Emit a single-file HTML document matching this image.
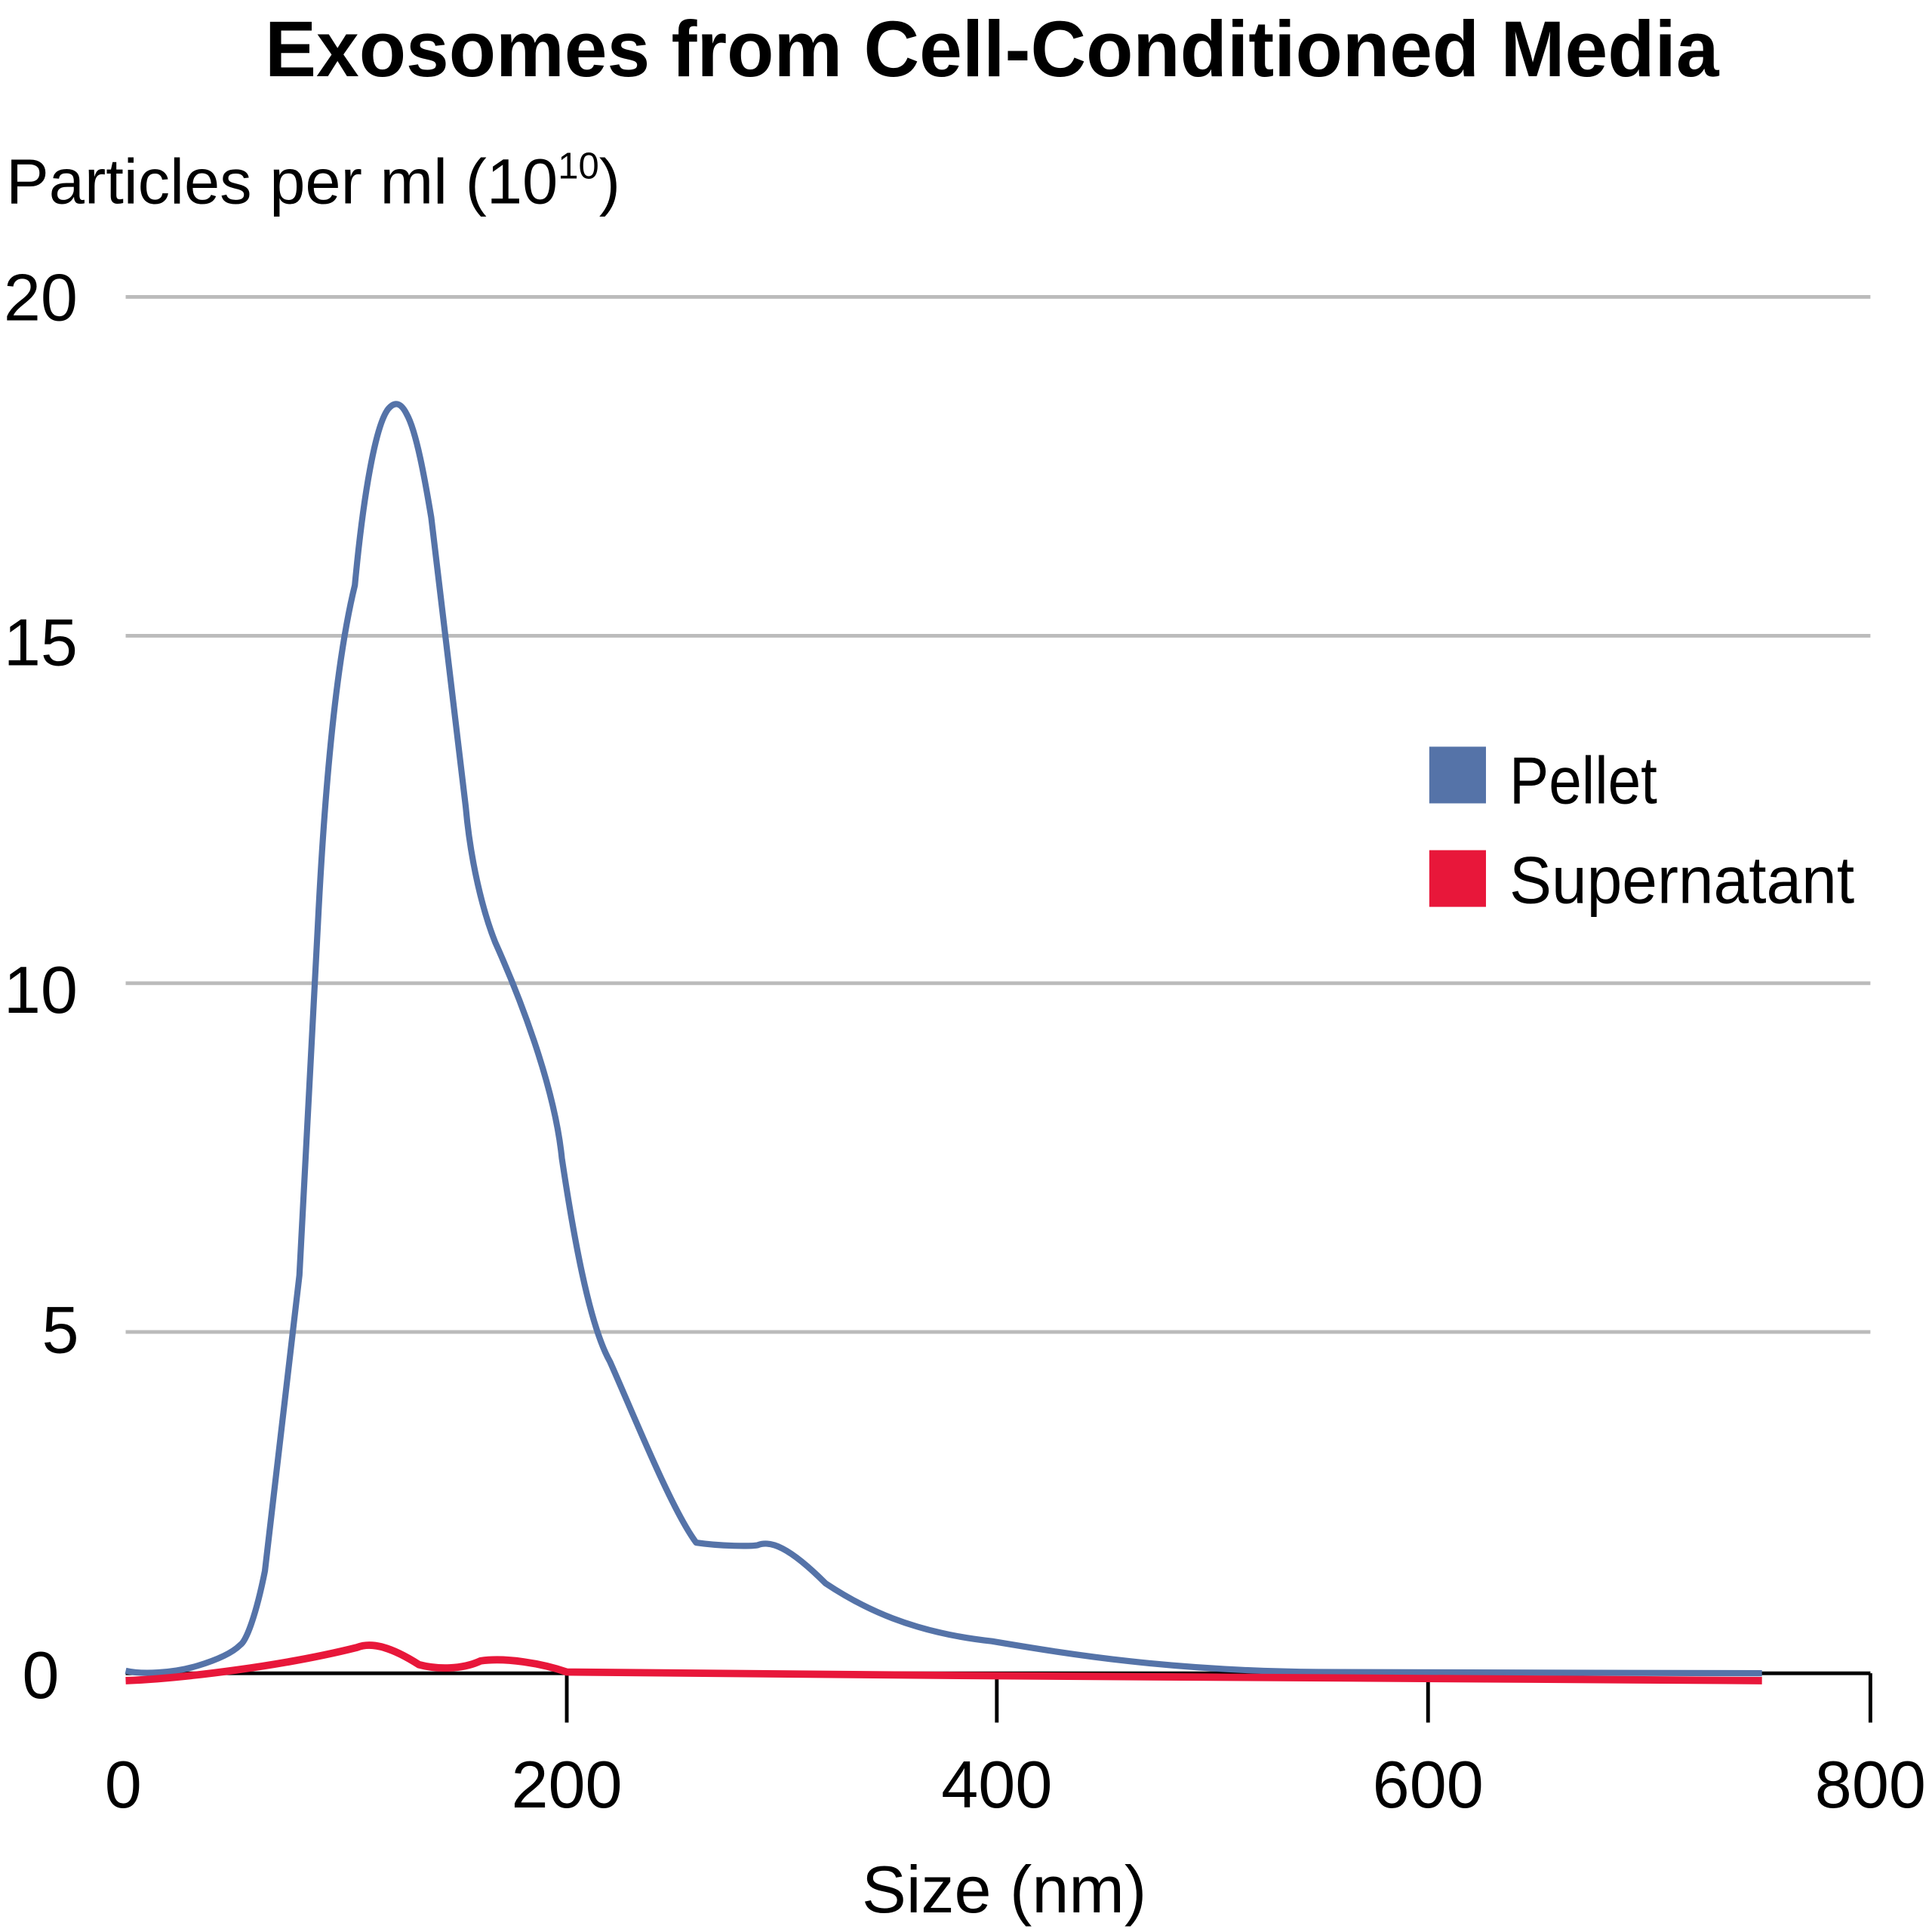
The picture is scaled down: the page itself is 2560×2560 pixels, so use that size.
<!DOCTYPE html>
<html><head><meta charset="utf-8"><style>html,body{margin:0;padding:0;background:#fff}svg{display:block}</style></head>
<body>
<svg width="2560" height="2560" viewBox="0 0 1568 1568" xmlns="http://www.w3.org/2000/svg" font-family="'Liberation Sans', sans-serif">
<rect width="1568" height="1568" fill="#fff"/>
<text x="805" y="62" text-anchor="middle" font-size="64" font-weight="bold" fill="#000" textLength="1180" lengthAdjust="spacingAndGlyphs">Exosomes from Cell-Conditioned Media</text>
<text x="5" y="165" font-size="52" fill="#000">Particles per ml (10<tspan font-size="30" dy="-20">10</tspan><tspan dy="20">)</tspan></text>
<g stroke="#bbbbbb" stroke-width="3">
<line x1="102" y1="241" x2="1518" y2="241"/>
<line x1="102" y1="516" x2="1518" y2="516"/>
<line x1="102" y1="798" x2="1518" y2="798"/>
<line x1="102" y1="1081" x2="1518" y2="1081"/>
</g>
<g font-size="54" fill="#000">
<text x="3" y="260">20</text>
<text x="3" y="540">15</text>
<text x="3" y="822">10</text>
<text x="34" y="1098">5</text>
<text x="18" y="1378">0</text>
</g>
<g stroke="#000" stroke-width="3">
<line x1="102" y1="1358" x2="1518" y2="1358"/>
<line x1="460" y1="1358" x2="460" y2="1398"/>
<line x1="809" y1="1358" x2="809" y2="1398"/>
<line x1="1159" y1="1358" x2="1159" y2="1398"/>
<line x1="1518" y1="1358" x2="1518" y2="1398"/>
</g>
<g font-size="54" fill="#000" text-anchor="middle">
<text x="100" y="1467">0</text>
<text x="460" y="1467">200</text>
<text x="809" y="1467">400</text>
<text x="1159" y="1467">600</text>
<text x="1518" y="1467">800</text>
<text x="815" y="1552">Size (nm)</text>
</g>
<path fill="none" stroke="#5573a8" stroke-width="5" stroke-linejoin="round" d="M102,1356 C115,1359 140,1358 160,1352 C180,1346 190,1340 195,1335 C200,1332 208,1310 215,1275 L243,1035 L258,750 C263,650 272,540 288,475 C295,400 305,345 315,332 C320,326 325,326 330,336 C338,350 345,390 350,420 L378,655 C382,700 392,740 402,765 C420,805 450,880 456,940 C465,1000 478,1075 495,1105 C515,1150 545,1225 565,1252 C585,1255 610,1255 615,1254 C625,1250 640,1255 670,1285 C700,1305 740,1325 805,1332 C870,1343 950,1356 1070,1357 L1430,1358"/>
<path fill="none" stroke="#e8173a" stroke-width="6" stroke-linejoin="round" d="M102,1364 C150,1362 230,1352 290,1337 C300,1333 315,1335 340,1351 C355,1355 375,1355 390,1348 C410,1345 440,1350 460,1357 L800,1360 L1430,1364"/>
<rect x="1160" y="606" width="46" height="46" fill="#5573a8"/>
<rect x="1160" y="690" width="46" height="46" fill="#e8173a"/>
<g font-size="54" fill="#000">
<text x="1225" y="652" textLength="120" lengthAdjust="spacingAndGlyphs">Pellet</text>
<text x="1225" y="733" textLength="280" lengthAdjust="spacingAndGlyphs">Supernatant</text>
</g>
</svg>
</body></html>
